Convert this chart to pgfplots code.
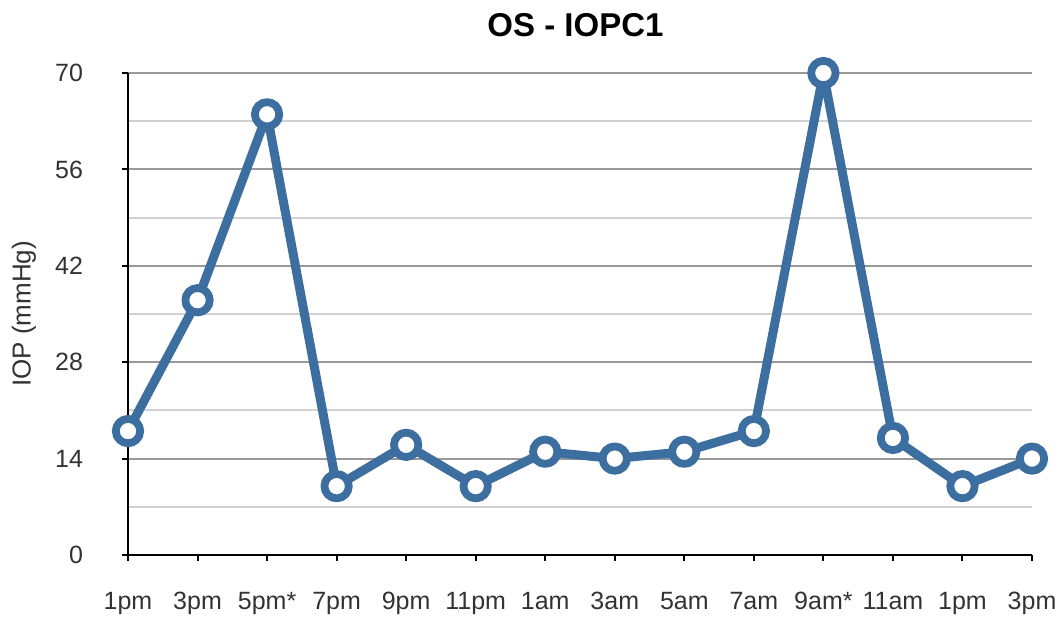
\documentclass[border=0pt]{standalone}
\usepackage{pgfplots}
\pgfplotsset{compat=1.18}
\usepackage{fontspec}
\setmainfont{Liberation Sans}
\definecolor{lineblue}{RGB}{61,110,160}
\definecolor{txt}{RGB}{50,50,50}
\begin{document}
\begin{tikzpicture}
\path[use as bounding box] (-64pt,-31.5pt) rectangle (467.5pt,277.5pt);
\begin{axis}[
 at={(0,0)}, anchor=south west, scale only axis,
 width=452pt, height=241pt,
 xmin=0, xmax=13, ymin=0, ymax=70,
 axis x line*=bottom, axis y line*=left,
 axis line style={black, line width=1pt, -},
 xtick={0,...,13},
 xticklabels={1pm,3pm,5pm*,7pm,9pm,11pm,1am,3am,5am,7am,9am*,11am,1pm,3pm},
 ytick={0,14,...,70},
 minor ytick={7,21,...,63},
 ymajorgrids, yminorgrids,
 major grid style={draw=black!40, line width=1pt},
 minor grid style={draw=black!18, line width=1pt},
 tick align=outside,
 major tick length=3pt,
 minor tick length=0pt,
 tick style={black, line width=1pt},
 xticklabel style={font=\fontsize{12.5}{13}\selectfont, text=txt, anchor=base, text height=8pt, text depth=2pt, yshift=-24pt},
 yticklabel style={font=\fontsize{12.5}{13}\selectfont, text=txt, xshift=-16pt},
 clip=false,
 /pgf/number format/assume math mode=true,
]
\addplot[lineblue, line width=4.5pt, line join=round, mark=*, mark size=6.1pt, mark options={fill=white, draw=lineblue, line width=3.9pt}] coordinates {
(0,18) (1,37) (2,64) (3,10) (4,16) (5,10) (6,15) (7,14) (8,15) (9,18) (10,70) (11,17) (12,10) (13,14)
};
\end{axis}
\node[font=\bfseries\fontsize{16.5}{18}\selectfont, anchor=base] at (223.75pt,259.5pt) {OS - IOPC1};
\node[rotate=90, font=\fontsize{13}{14}\selectfont, text=txt] at (-52pt,120.5pt) {IOP (mmHg)};
\end{tikzpicture}
\end{document}
